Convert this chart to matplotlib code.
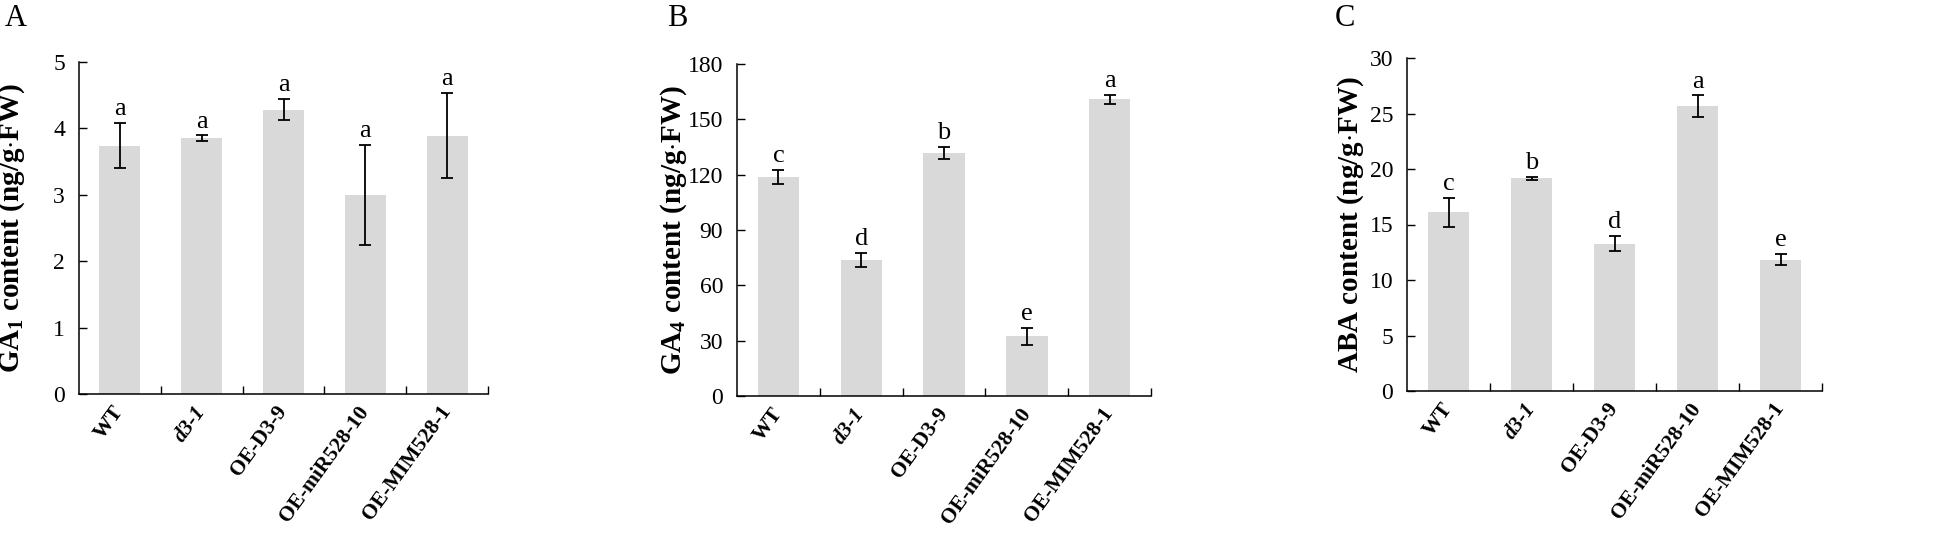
import numpy as np
import matplotlib
matplotlib.use('Agg')
import matplotlib.pyplot as plt
import matplotlib.transforms as mtransforms

plt.rcParams['font.family'] = ['Liberation Serif', 'DejaVu Serif']
plt.rcParams['mathtext.fontset'] = 'custom'
plt.rcParams['mathtext.rm'] = 'Liberation Serif'
plt.rcParams['mathtext.bf'] = 'Liberation Serif:bold'

lines = ['WT', 'd3-1', 'OE-D3-9', 'OE-miR528-10', 'OE-MIM528-1']

ga1 = [3.74, 3.85, 4.28, 3.00, 3.89]
ga1_err = [0.34, 0.045, 0.16, 0.75, 0.64]
ga1_sig = ['a', 'a', 'a', 'a', 'a']

ga4 = [118.9, 73.7, 131.9, 32.5, 160.9]
ga4_err = [3.8, 3.7, 3.2, 4.6, 2.5]
ga4_sig = ['c', 'd', 'b', 'e', 'a']

aba = [16.1, 19.17, 13.27, 25.64, 11.83]
aba_err = [1.3, 0.15, 0.7, 1.0, 0.5]
aba_sig = ['c', 'b', 'd', 'a', 'e']

panels = [
    ('A', ga1, ga1_err, ga1_sig, r'GA$_{\mathbf{1}}$ content (ng/g$\cdot$FW)', 5, 1),
    ('B', ga4, ga4_err, ga4_sig, r'GA$_{\mathbf{4}}$ content (ng/g$\cdot$FW)', 180, 30),
    ('C', aba, aba_err, aba_sig, r'ABA content (ng/g$\cdot$FW)', 30, 5),
]

W, H = 1960, 534
fig = plt.figure(figsize=(W / 100, H / 100), dpi=100)

# axes boxes in pixels: left, right, top, bottom
boxes = [(79, 488, 62, 394), (737, 1151, 64, 396), (1407, 1822, 58, 391)]
letter_x = [5, 667, 1335]
label_x = [12, 674, 1351]

for (letter, vals, errs, sig, ylab, ymax, ystep), (l, r, t, b), lx, yx in zip(
        panels, boxes, letter_x, label_x):
    ax = fig.add_axes([l / W, 1 - b / H, (r - l) / W, (b - t) / H])
    x = np.arange(len(lines))
    ax.bar(x, vals, width=0.5, color='#d9d9d9', zorder=1)
    ax.errorbar(x, vals, yerr=errs, fmt='none', ecolor='black',
                elinewidth=1.3, capsize=4.5, capthick=1.3, zorder=2)
    for xi, v, e, s in zip(x, vals, errs, sig):
        ax.annotate(s, (xi, v + e), xytext=(0, 2), textcoords='offset points',
                    ha='center', va='bottom', fontsize=19)

    ax.set_xlim(-0.5, len(lines) - 0.5)
    ax.set_ylim(0, ymax)
    ax.set_yticks(np.arange(0, ymax + ystep / 2, ystep))
    ax.set_xticks(x)
    ax.set_xticks(np.arange(0.5, len(lines), 1), minor=True)
    ax.set_xticklabels(lines, rotation=54, ha='right', va='center',
                       rotation_mode='anchor', fontsize=15.5, fontweight='bold')
    ax.get_xticklabels()[1].set_style('italic')
    ax.tick_params(axis='x', which='major', length=0, pad=10)
    ax.tick_params(axis='x', which='minor', direction='in', length=6, width=1)
    ax.tick_params(axis='y', direction='in', length=6, width=1, labelsize=17, pad=10)

    ax.spines['top'].set_visible(False)
    ax.spines['right'].set_visible(False)
    for sp in ('left', 'bottom'):
        ax.spines[sp].set_linewidth(1.1)

    ax.set_ylabel(ylab, fontsize=21, fontweight='bold')
    ax.yaxis.label.set_va('center')
    trans = mtransforms.blended_transform_factory(fig.transFigure, ax.transAxes)
    ax.yaxis.set_label_coords(yx / W, 0.5, transform=trans)

    fig.text(lx / W, 1 - 4 / H, letter, fontsize=22, ha='left', va='top')

fig.savefig('out.png', dpi=100)
